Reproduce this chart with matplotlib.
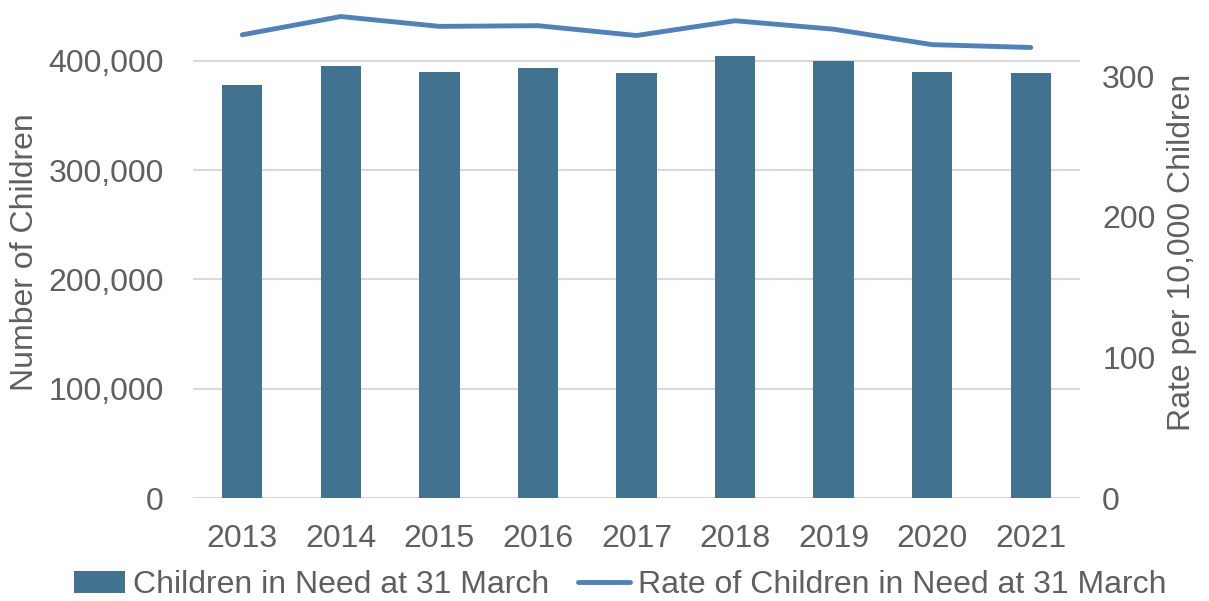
import matplotlib.pyplot as plt
from matplotlib.ticker import FuncFormatter

plt.rcParams['font.family'] = ['Liberation Sans', 'DejaVu Sans']

years = ['2013', '2014', '2015', '2016', '2017', '2018', '2019', '2020', '2021']
children = [377500, 395400, 389900, 393600, 389000, 404600, 399500, 389300, 388500]
rate = [329.5, 342.5, 335.5, 336.0, 329.0, 339.5, 333.5, 322.5, 320.5]

grey = '#5F5F5F'
barCol = '#41728F'
lineCol = '#4F81BD'
fs = 23

fig = plt.figure(figsize=(12.09, 6.01), dpi=100)
ax1 = fig.add_axes([193/1209, 1-498/601, (1080-193)/1209, (498-6)/601])
ax2 = ax1.twinx()

xs = range(len(years))
bars = ax1.bar(xs, children, width=0.41, color=barCol, zorder=3, label='Children in Need at 31 March')
ln, = ax2.plot(xs, rate, color=lineCol, linewidth=3.5, solid_capstyle='round', zorder=4,
               label='Rate of Children in Need at 31 March')

ax1.set_xlim(-0.5, len(years) - 0.5)
ax1.set_ylim(0, 450000)
ax2.set_ylim(0, 350)
ax1.set_yticks([0, 100000, 200000, 300000, 400000])
ax2.set_yticks([0, 100, 200, 300])
ax1.yaxis.set_major_formatter(FuncFormatter(lambda v, p: f'{int(v):,}'))
ax1.set_xticks(list(xs))
ax1.set_xticklabels(years)

ax1.grid(axis='y', color='#D9D9D9', linewidth=1.5, zorder=0)
for ax in (ax1, ax2):
    for s in ax.spines.values():
        s.set_visible(False)
    ax.tick_params(length=0, labelsize=fs, colors=grey)
ax1.tick_params(axis='x', pad=19)
ax1.tick_params(axis='y', pad=21)
ax2.tick_params(axis='y', pad=16)

ax1.set_ylabel('Number of Children', fontsize=fs, color=grey, labelpad=6)
ax2.set_ylabel('Rate per 10,000 Children', fontsize=fs, color=grey, labelpad=8)

fig.legend([bars, ln], ['Children in Need at 31 March', 'Rate of Children in Need at 31 March'],
           loc='center', bbox_to_anchor=(0.513, 1-585/601), ncol=2, frameon=False,
           fontsize=fs, labelcolor=grey, handlelength=1.6, handletextpad=0.25, columnspacing=0.9,
           borderpad=0, borderaxespad=0)

fig.savefig('out.png', dpi=100)
